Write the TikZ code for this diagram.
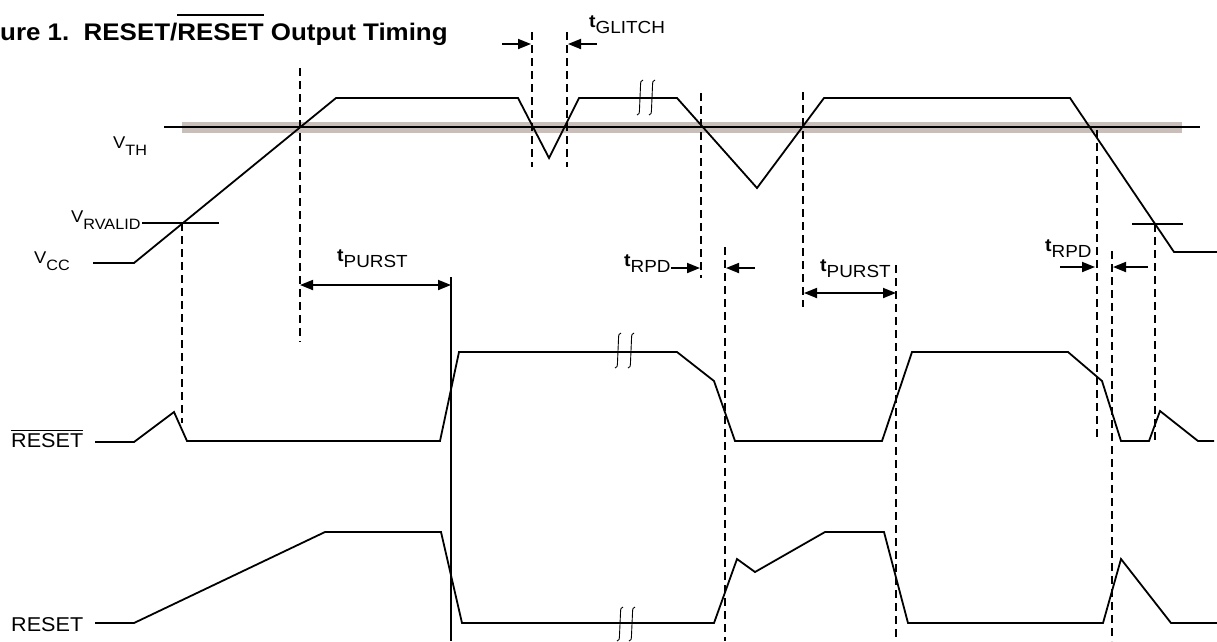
\documentclass[tikz,border=0pt]{standalone}
\usepackage{fontspec}
\setmainfont{Liberation Sans}[FakeStretch=1.08]
\usetikzlibrary{arrows.meta}
\definecolor{bandgray}{RGB}{200,190,186}
\newcommand\ovl[3]{\leavevmode\setbox0\hbox{#3}\rlap{\rule[\dimexpr\ht0+#1\relax]{\wd0}{#2}}\box0\relax}
\newcommand\vsub[2]{\fontsize{17}{17}\selectfont #1\raisebox{-7pt}{\fontsize{15}{15}\selectfont #2}}
\newcommand\tsub[2]{\fontsize{18}{18}\selectfont\bfseries #1\raisebox{-6.5pt}{\fontsize{17.5}{17.5}\selectfont\mdseries #2}}
\begin{document}
\begin{tikzpicture}[x=1pt,y=-1pt,
  wave/.style={line width=1.8pt, line join=miter},
  dline/.style={line width=1.8pt, dash pattern=on 8pt off 5pt},
  arr/.style={line width=1.8pt, -{Triangle[length=13pt,width=10pt]}},
  darr/.style={line width=1.8pt, {Triangle[length=13pt,width=10pt]}-{Triangle[length=13pt,width=10pt]}},
  brk/.style={line width=0.9pt},
  lab/.style={inner sep=0pt, anchor=base west}]
\useasboundingbox (0,0) rectangle (1217,641);

% title
\node[lab] (title) at (0,40) {\fontsize{24}{24}\selectfont\bfseries ure 1.\ \ RESET/\ovl{7.5pt}{2pt}{RESET} Output Timing};

% threshold band
\fill[bandgray] (182,122) rectangle (1182,133);
\coordinate (thL) at (164,127);
\coordinate (thR) at (1200,127);
\draw[line width=1.8pt] (thL) -- (thR);

% VRVALID markers
\coordinate (rv1a) at (142,223); \coordinate (rv1b) at (219,223);
\coordinate (rv2a) at (1132,224); \coordinate (rv2b) at (1183,224);
\draw[wave] (rv1a) -- (rv1b);
\draw[wave] (rv2a) -- (rv2b);

% VCC waveform
\draw[wave] (93,263) -- (134,263) -- (336,98) -- (518,98) -- (549,158) -- (579,98)
  -- (677,98) -- (757,188) -- (824,98) -- (1070,98) -- (1174,252) -- (1217,252);

% RESET-bar waveform
\draw[wave] (95,442) -- (134,442) -- (174,412) -- (187,441) -- (440,441) -- (459,352)
  -- (677,352) -- (714,381) -- (735,441) -- (882,441) -- (912,352) -- (1068,352)
  -- (1102,381) -- (1121,441) -- (1149,441) -- (1160,411) -- (1198,441) -- (1214,441);

% RESET waveform
\draw[wave] (95,623) -- (134,623) -- (325,532) -- (441,532) -- (462,623) -- (714,623)
  -- (737,559) -- (755,572) -- (825,532) -- (884,532) -- (908,623) -- (1103,623)
  -- (1121,559) -- (1171,623) -- (1217,623);

% break marks
\foreach \bx/\bt/\bb in {640/80/115, 652/80/115, 618/333/368, 631/333/368, 620/607/641, 632/607/641}{
  \draw[brk] (\bx+3,\bt) .. controls (\bx+1,\bt) and (\bx+0.5,\bt+2) .. (\bx+0.5,\bt+6)
    -- (\bx-0.5,\bb-6) .. controls (\bx-0.5,\bb-2) and (\bx-1,\bb) .. (\bx-3,\bb);
}

% dashed verticals
\foreach \dx/\dt/\db in {182/223/423, 300/68/342, 532/32/167, 567/32/167, 701/93/278,
  725/247/641, 803/92/307, 896/265/641, 1097/130/440, 1112/251/641, 1155/224/440}{
  \draw[dline] (\dx,\dt) -- (\dx,\db);
}
% solid vertical
\coordinate (sv1) at (451,277); \coordinate (sv2) at (451,641);
\draw[line width=1.8pt] (sv1) -- (sv2);

% dimension arrows
\coordinate (p1a) at (300,285); \coordinate (p1b) at (451,285);
\draw[darr] (p1a) -- (p1b);
\coordinate (p2a) at (804,293); \coordinate (p2b) at (896,293);
\draw[darr] (p2a) -- (p2b);
\coordinate (r1a) at (671,268); \coordinate (r1b) at (700,268);
\coordinate (r1c) at (755,268); \coordinate (r1d) at (726,268);
\draw[arr] (r1a) -- (r1b);
\draw[arr] (r1c) -- (r1d);
\coordinate (r2a) at (1060,267); \coordinate (r2b) at (1095,267);
\coordinate (r2c) at (1148,267); \coordinate (r2d) at (1113,267);
\draw[arr] (r2a) -- (r2b);
\draw[arr] (r2c) -- (r2d);
\coordinate (g1a) at (502,44); \coordinate (g1b) at (531,44);
\coordinate (g2a) at (597,44); \coordinate (g2b) at (568,44);
\draw[arr] (g1a) -- (g1b);
\draw[arr] (g2a) -- (g2b);

% labels
\node[lab] (vth) at (113,148) {\vsub{V}{TH}};
\node[lab] (vrvalid) at (71,222) {\vsub{V}{RVALID}};
\node[lab] (vcc) at (34,263) {\vsub{V}{CC}};
\node[lab] (resetbar) at (11,447) {\fontsize{20}{20}\selectfont\ovl{2pt}{1.3pt}{RESET}};
\node[lab] (reset) at (11,631) {\fontsize{20}{20}\selectfont RESET};
\node[lab] (tpurst1) at (337,261) {\tsub{t}{PURST}};
\node[lab] (tpurst2) at (820,271) {\tsub{t}{PURST}};
\node[lab] (trpd1) at (624,266) {\tsub{t}{RPD}};
\node[lab] (trpd2) at (1045,251) {\tsub{t}{RPD}};
\node[lab] (tglitch) at (589,27) {\tsub{t}{GLITCH}};
\end{tikzpicture}
\end{document}
